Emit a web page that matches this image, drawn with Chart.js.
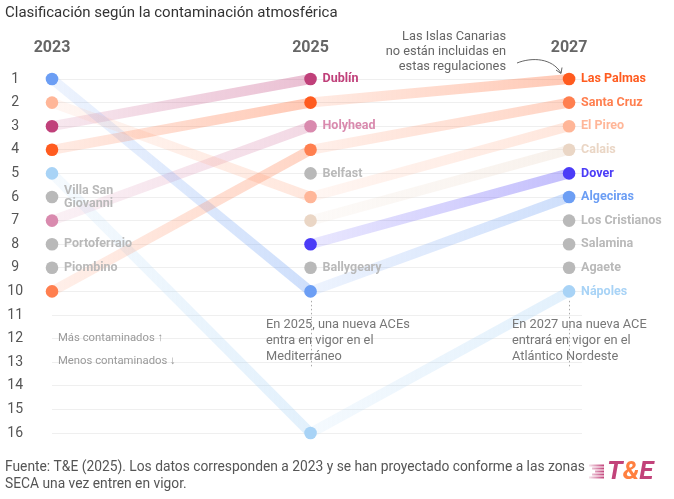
<!DOCTYPE html>
<html>
<head>
<meta charset="utf-8">
<style>
  html, body { margin: 0; padding: 0; background: #fff; }
  #wrap { width: 674px; height: 499px; }
</style>
</head>
<body>
<div id="wrap"><canvas id="c"></canvas></div>
<script src="https://cdn.jsdelivr.net/npm/chart.js@4.4.1/dist/chart.umd.min.js"></script>
<script>
// datos
const years = [2023, 2025, 2027];
const ports = ['Las Palmas', 'Santa Cruz', 'El Pireo', 'Calais', 'Dover', 'Algeciras', 'Nápoles',
  'Dublín', 'Holyhead', 'Villa San Giovanni', 'Portoferraio', 'Piombino', 'Belfast', 'Ballygeary',
  'Los Cristianos', 'Salamina', 'Agaete'];
const rank2023 = [4, 10, 2, null, null, 1, 5, 3, 7, 6, 8, 9, null, null, null, null, null];
const rank2025 = [2, 4, 6, 7, 8, 10, 16, 1, 3, null, null, null, 5, 9, null, null, null];
const rank2027 = [1, 2, 3, 4, 5, 6, 10, null, null, null, null, null, null, null, 7, 8, 9];
const rankTicks = [1, 2, 3, 4, 5, 6, 7, 8, 9, 10, 11, 12, 13, 14, 15, 16];

const gray = '#b9b9b9';
const colors = ['#ff5b1f', '#ff7f4f', '#ffb698', '#ead6c5', '#4b3cf7', '#6c9ef4', '#a8d3f6',
  '#c0407a', '#d98aae', gray, gray, gray, gray, gray, gray, gray, gray];

const ranks = [rank2023, rank2025, rank2027];

function rgba(hex, a) {
  const n = parseInt(hex.slice(1), 16);
  return 'rgba(' + (n >> 16) + ',' + ((n >> 8) & 255) + ',' + (n & 255) + ',' + a + ')';
}

const cctx = document.getElementById('c').getContext('2d');

function segGrad(color) {
  return function(ctx) {
    const g = cctx.createLinearGradient(ctx.p0.x, 0, ctx.p1.x, 0);
    g.addColorStop(0, rgba(color, 0.12));
    g.addColorStop(1, rgba(color, 0.33));
    return g;
  };
}

function portPoints(i) {
  return years.map((y, k) => ({x: y, y: ranks[k][i]})).filter(p => p.y != null);
}

const datasets = [];
// puntos (encima)
ports.forEach((name, i) => {
  datasets.push({
    label: name,
    data: portPoints(i),
    showLine: false,
    pointRadius: 6.3,
    pointBorderWidth: 0,
    pointBackgroundColor: colors[i],
    order: 0,
    clip: false
  });
});
// líneas (debajo)
ports.forEach((name, i) => {
  const pts = portPoints(i);
  if (pts.length < 2) return;
  datasets.push({
    label: name + ' línea',
    data: pts,
    borderWidth: 10,
    borderColor: rgba(colors[i], 0.25),
    pointRadius: 0,
    order: 1,
    clip: false,
    segment: {
      borderColor: segGrad(colors[i]),
      borderDashOffset: ctx => ctx.p0DataIndex
    }
  });
});

const labelsPlugin = {
  id: 'portLabels',
  afterDatasetsDraw(chart) {
    const ctx = chart.ctx;
    ctx.save();
    ctx.font = 'bold 12.5px Roboto';
    ctx.textBaseline = 'middle';
    ctx.textAlign = 'left';
    ports.forEach((name, i) => {
      const meta = chart.getDatasetMeta(i);
      const el = meta.data[meta.data.length - 1];
      ctx.fillStyle = colors[i];
      if (name === 'Villa San Giovanni') {
        ctx.fillText('Villa San', el.x + 12, el.y - 6.5);
        ctx.fillText('Giovanni', el.x + 12, el.y + 6.5);
      } else {
        ctx.fillText(name, el.x + 12, el.y);
      }
    });
    ctx.restore();
  }
};

const notesPlugin = {
  id: 'notes',
  afterDraw(chart) {
    const ctx = chart.ctx;
    const xs = chart.scales.x, ys = chart.scales.y;
    ctx.save();
    // titulo
    ctx.font = '15px Roboto';
    ctx.fillStyle = '#333';
    ctx.textBaseline = 'middle';
    ctx.fillText('Clasificación según la contaminación atmosférica', 5, 13);

    // nota Canarias
    ctx.font = '12.8px Roboto';
    ctx.fillStyle = '#666';
    ctx.textAlign = 'right';
    ctx.fillText('Las Islas Canarias', 506, 37);
    ctx.fillText('no están incluidas en', 506, 52);
    ctx.fillText('estas regulaciones', 506, 67);
    // flecha
    ctx.strokeStyle = '#666';
    ctx.lineWidth = 1;
    ctx.beginPath();
    ctx.moveTo(517, 63);
    ctx.bezierCurveTo(532, 57, 552, 58, 561, 73);
    ctx.stroke();
    ctx.beginPath();
    ctx.moveTo(556, 70);
    ctx.lineTo(561, 73.5);
    ctx.lineTo(562, 67.5);
    ctx.stroke();

    // lineas punteadas
    ctx.strokeStyle = '#aaa';
    ctx.setLineDash([1.5, 2.5]);
    [2025, 2027].forEach(v => {
      const x = Math.round(xs.getPixelForValue(v)) + 0.5;
      ctx.beginPath();
      ctx.moveTo(x, ys.getPixelForValue(10.4));
      ctx.lineTo(x, ys.getPixelForValue(13.2));
      ctx.stroke();
    });
    ctx.setLineDash([]);

    ctx.textAlign = 'left';
    ctx.fillStyle = '#777';
    ctx.font = '12.8px Roboto';
    ['En 2025, una nueva ACEs', 'entra en vigor en el', 'Mediterráneo'].forEach((t, k) => {
      ctx.fillText(t, 266, 325 + k * 16);
    });
    ['En 2027 una nueva ACE', 'entrará en vigor en el', 'Atlántico Nordeste'].forEach((t, k) => {
      ctx.fillText(t, 512, 325 + k * 16);
    });

    ctx.font = '11.3px Roboto';
    ctx.fillStyle = '#999';
    ctx.fillText('Más contaminados ↑', 58, 338);
    ctx.fillText('Menos contaminados ↓', 58, 361);

    // fuente
    ctx.font = '13.8px Roboto';
    ctx.fillStyle = '#555';
    ctx.fillText('Fuente: T&E (2025). Los datos corresponden a 2023 y se han proyectado conforme a las zonas', 5, 468);
    ctx.fillText('SECA una vez entren en vigor.', 5, 485);

    // logo
    const lefts = [589, 592, 595, 592, 589];
    lefts.forEach((l, k) => {
      const g = ctx.createLinearGradient(589, 0, 604, 0);
      g.addColorStop(0, 'rgba(194,67,122,0.15)');
      g.addColorStop(1, '#c2437a');
      ctx.fillStyle = g;
      ctx.fillRect(l, 464.5 + k * 3, 604 - l, 2);
    });
    ctx.font = 'italic bold 26px Roboto';
    ctx.textBaseline = 'alphabetic';
    let x = 607;
    [['T', '#c2437a'], ['&', '#ff8040'], ['E', '#c2437a']].forEach(([t, c]) => {
      ctx.fillStyle = c;
      ctx.fillText(t, x, 479);
      x += ctx.measureText(t).width;
    });
    ctx.restore();
  }
};

Chart.defaults.font.family = 'Roboto';

new Chart(cctx, {
  type: 'line',
  data: { datasets: datasets },
  options: {
    responsive: true,
    maintainAspectRatio: false,
    animation: false,
    events: [],
    layout: { padding: { left: 0, right: 92, top: 40, bottom: 66 } },
    plugins: { legend: { display: false }, tooltip: { enabled: false } },
    scales: {
      x: {
        type: 'linear',
        position: 'top',
        min: 2023,
        max: 2027.1,
        grid: { display: false, drawTicks: false },
        border: { display: false },
        afterBuildTicks: s => { s.ticks = years.map(v => ({ value: v })); },
        afterFit: s => { s.height = 39; },
        ticks: {
          padding: 21,
          color: '#666',
          font: { size: 16, weight: 'bold' },
          callback: v => String(v)
        }
      },
      y: {
        type: 'linear',
        reverse: true,
        min: 1,
        max: 16,
        afterBuildTicks: s => { s.ticks = rankTicks.map(v => ({ value: v })); },
        afterFit: s => { s.width = 52; },
        grid: { color: '#efefef', drawTicks: false },
        border: { display: false },
        ticks: {
          crossAlign: 'center',
          padding: 29,
          color: '#555',
          font: { size: 14 }
        }
      }
    }
  },
  plugins: [labelsPlugin, notesPlugin]
});
</script>
</body>
</html>
